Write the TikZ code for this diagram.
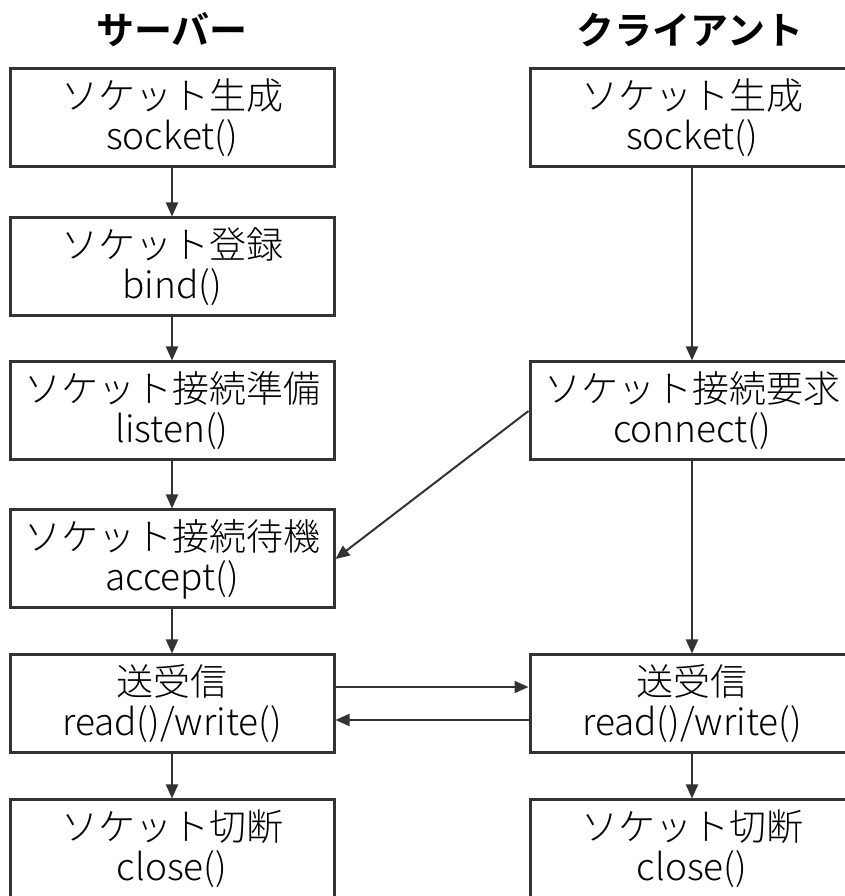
\documentclass[tikz,border=0pt]{standalone}
\usepackage{fontspec}
\setmainfont{Noto Sans CJK JP}[UprightFont={* Light},BoldFont={* Bold}]
\usetikzlibrary{arrows.meta}
\definecolor{ink}{HTML}{333333}
\tikzset{
  x=1pt,y=1pt,
  box/.style={draw=ink,line width=3pt,minimum width=324pt,minimum height=98pt,inner sep=0pt,align=center,font=\fontsize{37}{40}\selectfont},
  title/.style={font=\fontsize{38}{40}\selectfont\bfseries},
  flow/.style={draw=ink,line width=2pt,-{Triangle[length=14pt,width=12pt]}}
}
\begin{document}
\begin{tikzpicture}
\useasboundingbox[fill=white] (0,0) rectangle (845,896);
\node[title] (ts) at (172,866) {サーバー};
\node[title] (tc) at (690,866) {クライアント};
\node[box] (l1) at (172,778) {ソケット生成\\socket()};
\node[box] (l2) at (172,629) {ソケット登録\\bind()};
\node[box] (l3) at (172,485) {ソケット接続準備\\listen()};
\node[box] (l4) at (172,337) {ソケット接続待機\\accept()};
\node[box] (l5) at (172,192) {送受信\\read()/write()};
\node[box] (l6) at (172,47) {ソケット切断\\close()};
\node[box] (r1) at (692,778) {ソケット生成\\socket()};
\node[box] (r3) at (692,485) {ソケット接続要求\\connect()};
\node[box] (r5) at (692,192) {送受信\\read()/write()};
\node[box] (r6) at (692,47) {ソケット切断\\close()};
\draw[flow] (l1) -- (l2);
\draw[flow] (l2) -- (l3);
\draw[flow] (l3) -- (l4);
\draw[flow] (l4) -- (l5);
\draw[flow] (l5) -- (l6);
\draw[flow] (r1) -- (r3);
\draw[flow] (r3) -- (r5);
\draw[flow] (r5) -- (r6);
\draw[flow] (r3.west) -- (l4.east);
\draw[flow] ([yshift=17pt]l5.east) -- ([yshift=17pt]r5.west);
\draw[flow] ([yshift=-16pt]r5.west) -- ([yshift=-16pt]l5.east);
\end{tikzpicture}
\end{document}
